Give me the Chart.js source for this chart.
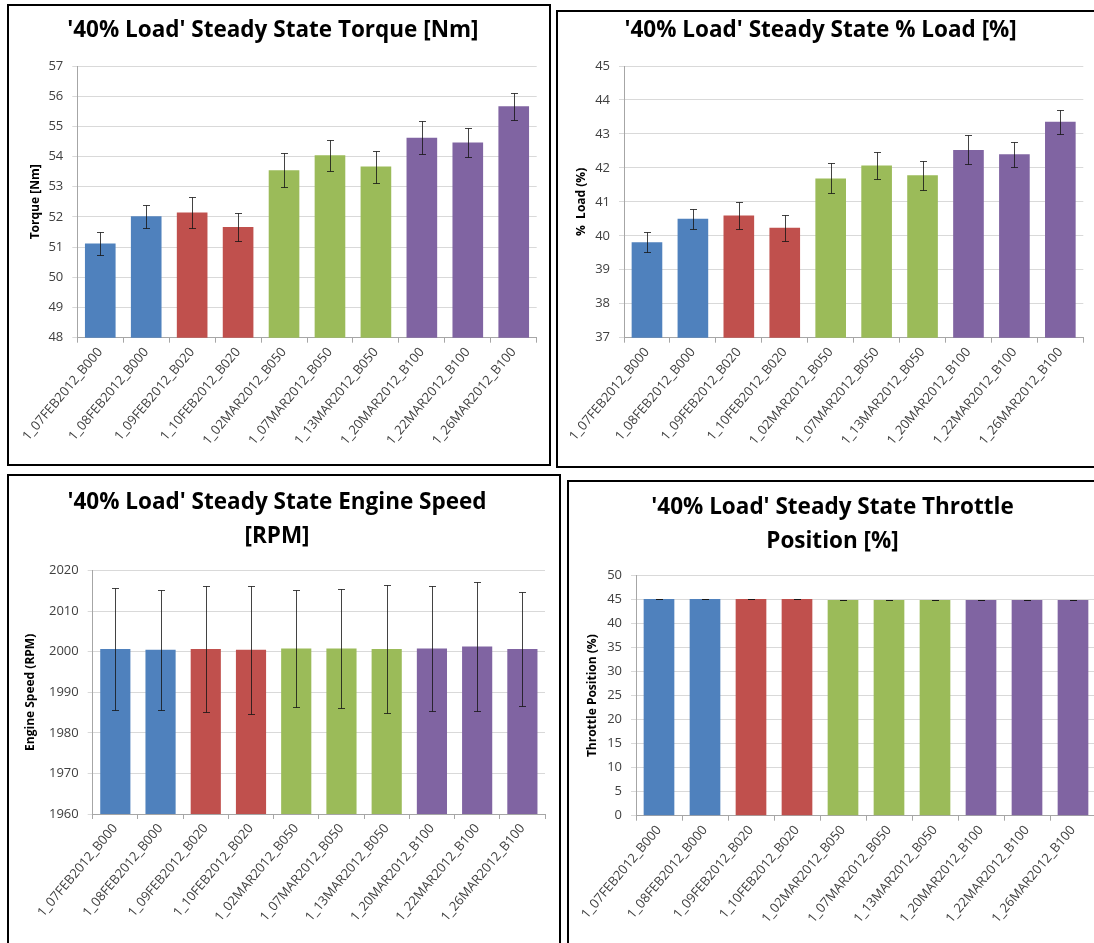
<!DOCTYPE html>
<html>
<head>
<meta charset="utf-8">
<script src="https://cdn.jsdelivr.net/npm/chart.js@4.4.0/dist/chart.umd.min.js"></script>
<style>
html,body{margin:0;padding:0;background:#fff;overflow:hidden;width:1094px;height:943px;}
.panel{position:absolute;border:2px solid #000;box-sizing:border-box;background:#fff;}
.panel canvas{position:absolute;left:0;top:0;}
</style>
</head>
<body>
<div class="panel" style="left:7px;top:4px;width:544px;height:462px;"><canvas id="c1"></canvas></div>
<div class="panel" style="left:556px;top:10px;width:541px;height:458px;"><canvas id="c2"></canvas></div>
<div class="panel" style="left:7px;top:474px;width:554px;height:480px;"><canvas id="c3"></canvas></div>
<div class="panel" style="left:567px;top:480px;width:545px;height:480px;"><canvas id="c4"></canvas></div>
<script>
// ---------- data ----------
const categories = ['1_07FEB2012_B000','1_08FEB2012_B000','1_09FEB2012_B020','1_10FEB2012_B020','1_02MAR2012_B050','1_07MAR2012_B050','1_13MAR2012_B050','1_20MAR2012_B100','1_22MAR2012_B100','1_26MAR2012_B100'];
const barColors = ['#4F81BD','#4F81BD','#C0504D','#C0504D','#9BBB59','#9BBB59','#9BBB59','#8064A2','#8064A2','#8064A2'];

const torqueMean = [51.12, 52.02, 52.15, 51.67, 53.55, 54.04, 53.67, 54.62, 54.47, 55.67];
const torqueErr  = [0.38, 0.38, 0.50, 0.47, 0.56, 0.52, 0.53, 0.55, 0.47, 0.45];
const torqueTicks = [48, 49, 50, 51, 52, 53, 54, 55, 56, 57];

const loadMean = [39.81, 40.50, 40.60, 40.24, 41.69, 42.07, 41.78, 42.53, 42.40, 43.36];
const loadErr  = [0.30, 0.29, 0.40, 0.38, 0.44, 0.41, 0.42, 0.43, 0.36, 0.35];
const loadTicks = [37, 38, 39, 40, 41, 42, 43, 44, 45];

const speedMean = [2000.66, 2000.50, 2000.66, 2000.50, 2000.80, 2000.80, 2000.66, 2000.80, 2001.30, 2000.66];
const speedErr  = [15.05, 14.80, 15.60, 15.80, 14.45, 14.70, 15.75, 15.40, 15.95, 14.15];
const speedTicks = [1960, 1970, 1980, 1990, 2000, 2010, 2020];

const throttleMean = [45.12, 45.12, 45.12, 45.12, 44.95, 44.95, 44.95, 44.95, 44.95, 44.95];
const throttleErr  = [0.05, 0.05, 0.05, 0.05, 0.05, 0.05, 0.05, 0.05, 0.05, 0.05];
const throttleTicks = [0, 5, 10, 15, 20, 25, 30, 35, 40, 45, 50];

// ---------- error bars plugin ----------
const errorBarPlugin = {
  id: 'errorBars',
  afterDatasetsDraw(chart) {
    const ctx = chart.ctx;
    const yScale = chart.scales.y;
    chart.data.datasets.forEach((ds, di) => {
      const err = ds.errors;
      if (!err) return;
      const meta = chart.getDatasetMeta(di);
      meta.data.forEach((bar, i) => {
        const v = ds.data[i];
        const yTop = Math.round(yScale.getPixelForValue(v + err[i])) + 0.5;
        const yBot = Math.round(yScale.getPixelForValue(v - err[i])) + 0.5;
        const x = Math.round(bar.x) + 0.5;
        ctx.save();
        ctx.strokeStyle = 'rgba(20,20,20,0.8)';
        ctx.lineWidth = 1;
        ctx.beginPath();
        ctx.moveTo(x, yTop); ctx.lineTo(x, yBot);
        ctx.moveTo(x - 3.5, yTop); ctx.lineTo(x + 3.5, yTop);
        ctx.moveTo(x - 3.5, yBot); ctx.lineTo(x + 3.5, yBot);
        ctx.stroke();
        ctx.restore();
      });
    });
  }
};

const FONT = "'Open Sans'";
function makeChart(id, cfg) {
  const canvas = document.getElementById(id);
  canvas.width = cfg.w; canvas.height = cfg.h;
  canvas.style.width = cfg.w + 'px'; canvas.style.height = cfg.h + 'px';
  const ticks = cfg.ticks;
  return new Chart(canvas, {
    type: 'bar',
    data: {
      labels: categories,
      datasets: [{
        data: cfg.values,
        errors: cfg.errors,
        backgroundColor: barColors,
        borderWidth: 0,
        barPercentage: 0.667,
        categoryPercentage: 1
      }]
    },
    options: {
      responsive: false,
      animation: false,
      devicePixelRatio: 1,
      layout: { padding: { left: 0, right: cfg.padRight, top: 0, bottom: 0 } },
      plugins: {
        legend: { display: false },
        tooltip: { enabled: false },
        title: {
          display: true, text: cfg.title, color: '#000',
          font: { family: FONT, size: 22.5, weight: 'bold', lineHeight: cfg.titleLH },
          padding: { top: cfg.titleTop, bottom: cfg.titleBottom }
        }
      },
      scales: {
        x: {
          grid: { display: true, drawOnChartArea: false, drawTicks: true, tickLength: 5, color: '#a6a6a6', offset: true },
          border: { display: true, color: '#a6a6a6' },
          ticks: { autoSkip: false, minRotation: 50, maxRotation: 50, padding: 2, color: '#404040', font: { family: FONT, size: 13 } },
          afterFit(s) { s.height = cfg.xH; }
        },
        y: {
          min: ticks[0], max: ticks[ticks.length - 1],
          ticks: { stepSize: ticks[1] - ticks[0], color: '#404040', padding: 9, font: { family: FONT, size: 13 },
                   callback: v => String(v) },
          grid: { color: '#d9d9d9', tickLength: 5, drawTicks: true },
          border: { display: true, color: '#a6a6a6' },
          title: { display: true, text: cfg.yTitle, color: '#000', font: { family: FONT, size: 12, weight: 'bold', lineHeight: 1.2 }, padding: { top: cfg.yTitlePad, bottom: 0 } },
          afterFit(s) { s.width = cfg.yW; }
        }
      }
    },
    plugins: [errorBarPlugin]
  });
}

makeChart('c1', {
  w: 540, h: 458, values: torqueMean, errors: torqueErr, ticks: torqueTicks,
  title: "'40% Load' Steady State Torque [Nm]", titleLH: 1.2, titleTop: 11.5, titleBottom: 21.5,
  yTitle: 'Torque [Nm]', yTitlePad: 19.8, yW: 68.3, xH: 126.3, padRight: 12.3
});
makeChart('c2', {
  w: 537, h: 454, values: loadMean, errors: loadErr, ticks: loadTicks,
  title: "'40% Load' Steady State % Load [%]", titleLH: 1.2, titleTop: 5.5, titleBottom: 21.5,
  yTitle: '%  Load (%)', yTitlePad: 16.8, yW: 66, xH: 128.3, padRight: 11.7
});
makeChart('c3', {
  w: 550, h: 470, values: speedMean, errors: speedErr, ticks: speedTicks,
  title: ["'40% Load' Steady State Engine Speed", '[RPM]'], titleLH: 1.511, titleTop: 10, titleBottom: 16.7,
  yTitle: 'Engine Speed (RPM)', yTitlePad: 14.8, yW: 83.7, xH: 132, padRight: 14
});
makeChart('c4', {
  w: 541, h: 470, values: throttleMean, errors: throttleErr, ticks: throttleTicks,
  title: ["'40% Load' Steady State Throttle", 'Position [%]'], titleLH: 1.511, titleTop: 9, titleBottom: 16.7,
  yTitle: 'Throttle Position (%)', yTitlePad: 16.8, yW: 67, xH: 136.3, padRight: 14
});
</script>
</body>
</html>
